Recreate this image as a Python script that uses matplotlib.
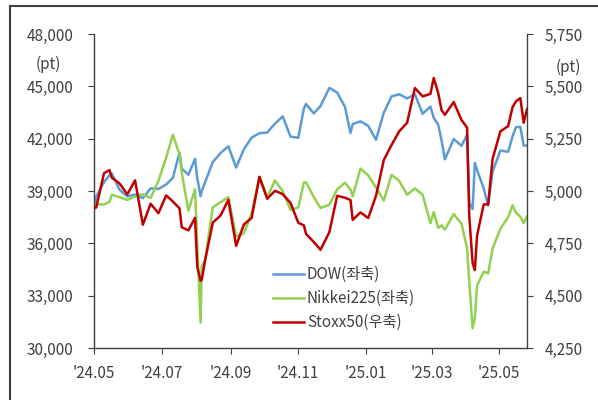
import matplotlib
matplotlib.use("Agg")
import matplotlib.pyplot as plt
import matplotlib.dates as mdates
import pandas as pd

plt.rcParams['font.family'] = ['Noto Sans CJK KR', 'DejaVu Sans']

# weekly-ish closes plus key swing days
dates = ["2024-05-01", "2024-05-03", "2024-05-10", "2024-05-15", "2024-05-17", "2024-05-24",
         "2024-05-31", "2024-06-07", "2024-06-14", "2024-06-21", "2024-06-28", "2024-07-05",
         "2024-07-11", "2024-07-17", "2024-07-19", "2024-07-25", "2024-07-31", "2024-08-02",
         "2024-08-05", "2024-08-06", "2024-08-09", "2024-08-16", "2024-08-23", "2024-08-30",
         "2024-09-06", "2024-09-13", "2024-09-20", "2024-09-27", "2024-10-04", "2024-10-11",
         "2024-10-18", "2024-10-25", "2024-11-01", "2024-11-06", "2024-11-08", "2024-11-15",
         "2024-11-21", "2024-11-29", "2024-12-06", "2024-12-13", "2024-12-18", "2024-12-20",
         "2024-12-27", "2025-01-03", "2025-01-10", "2025-01-17", "2025-01-24", "2025-01-31",
         "2025-02-07", "2025-02-14", "2025-02-21", "2025-02-28", "2025-03-03", "2025-03-07",
         "2025-03-10", "2025-03-13", "2025-03-21", "2025-03-28", "2025-04-02", "2025-04-04",
         "2025-04-07", "2025-04-09", "2025-04-11", "2025-04-17", "2025-04-21", "2025-04-25",
         "2025-05-02", "2025-05-09", "2025-05-13", "2025-05-16", "2025-05-20", "2025-05-23",
         "2025-05-26"]

dow = [37903, 38676, 39513, 39908, 40004, 39070,
       38686, 38799, 38589, 39150, 39119, 39376,
       39753, 41198, 40288, 39935, 40843, 39737,
       38703, 38997, 39497, 40660, 41175, 41563,
       40345, 41394, 42063, 42313, 42352, 42864,
       43276, 42114, 42052, 43729, 43989, 43445,
       43870, 44911, 44642, 43828, 42326, 42840,
       42992, 42732, 41938, 43488, 44424, 44545,
       44303, 44546, 43428, 43841, 43191, 42802,
       41912, 40813, 41985, 41584, 42226, 38315,
       37966, 40608, 40213, 39142, 38170, 40114,
       41317, 41249, 42140, 42655, 42677, 41603,
       41603]

nikkei = [38274, 38236, 38229, 38385, 38787, 38646,
          38488, 38684, 38815, 38596, 39583, 40913,
          42224, 41098, 40064, 37869, 39102, 35910,
          31458, 34675, 35025, 38063, 38364, 38648,
          36391, 36581, 37724, 39830, 38636, 39605,
          38982, 37914, 38054, 39480, 39500, 38642,
          38026, 38208, 39091, 39470, 39082, 38702,
          40281, 39895, 39190, 38451, 39931, 39572,
          38787, 39149, 38776, 37155, 37785, 36887,
          37028, 36790, 37677, 37120, 35725, 33781,
          31136, 31714, 33586, 34377, 34280, 35706,
          36831, 37503, 38183, 37754, 37529, 37160,
          37532]

stoxx = [4921, 4921, 5085, 5100, 5064, 5036,
         4984, 5051, 4839, 4939, 4894, 4979,
         4950, 4917, 4827, 4812, 4872, 4638,
         4571, 4576, 4667, 4849, 4883, 4958,
         4738, 4840, 4872, 5067, 4963, 5001,
         4985, 4943, 4848, 4836, 4795, 4756,
         4719, 4804, 4977, 4968, 4957, 4862,
         4898, 4871, 4977, 5148, 5220, 5286,
         5326, 5492, 5452, 5464, 5540, 5468,
         5387, 5364, 5425, 5339, 5303, 4878,
         4656, 4622, 4787, 4936, 4936, 5154,
         5285, 5310, 5401, 5428, 5444, 5326,
         5391]

labels = ["DOW(좌축)", "Nikkei225(좌축)", "Stoxx50(우축)"]
colors = ["#5B9BD5", "#92D050", "#C00000"]

x = pd.to_datetime(dates)
txt = "#404040"

fig = plt.figure(figsize=(5.98, 4.0), dpi=100)
ax = fig.add_axes([0.1572, 0.13, 0.7241, 0.785])
ax2 = ax.twinx()

l1, = ax.plot(x, dow, color=colors[0], lw=1.8, label=labels[0])
l2, = ax.plot(x, nikkei, color=colors[1], lw=1.8, label=labels[1])
l3, = ax2.plot(x, stoxx, color=colors[2], lw=1.8, label=labels[2])

ax.set_ylim(30000, 48000)
ax.set_yticks(range(30000, 48001, 3000))
ax.yaxis.set_major_formatter(matplotlib.ticker.StrMethodFormatter("{x:,.0f}"))
ax2.set_ylim(4250, 5750)
ax2.set_yticks(range(4250, 5751, 250))
ax2.yaxis.set_major_formatter(matplotlib.ticker.StrMethodFormatter("{x:,.0f}"))

ax.set_xlim(pd.Timestamp("2024-05-01"), pd.Timestamp("2025-05-26"))
ax.xaxis.set_major_locator(mdates.MonthLocator(bymonth=[1, 3, 5, 7, 9, 11]))
ax.xaxis.set_major_formatter(mdates.DateFormatter("'%y.%m"))

for a in (ax, ax2):
    a.spines['top'].set_visible(False)
    for s in a.spines.values():
        s.set_color("#404040")
        s.set_linewidth(1.0)
ax.spines['right'].set_visible(False)
ax2.spines['left'].set_visible(False)
ax2.spines['bottom'].set_visible(False)

ax.tick_params(axis='y', direction='out', length=4, pad=11, labelsize=11, colors=txt)
ax.tick_params(axis='x', direction='out', length=4, pad=8, labelsize=11, colors=txt)
ax2.tick_params(axis='y', direction='out', length=4, pad=9, labelsize=11, colors=txt)

fig.text(48 / 598, 1 - 64 / 400, "(pt)", ha='center', va='center', fontsize=11, color=txt)
fig.text(568 / 598, 1 - 67 / 400, "(pt)", ha='center', va='center', fontsize=11, color=txt)

ax2.legend(handles=[l1, l2, l3], loc='lower left', bbox_to_anchor=(0.40, 0.035),
           frameon=False, fontsize=11, handlelength=2.0, handletextpad=0.2,
           labelspacing=0.45, borderaxespad=0, labelcolor=txt)

# outer frame
fig.add_artist(plt.Line2D([10 / 598, 10 / 598], [0, 1 - 6 / 400], color="#404040", lw=1.5))
fig.add_artist(plt.Line2D([10 / 598, 1], [1 - 6 / 400, 1 - 6 / 400], color="#404040", lw=1.5))

fig.savefig("out.png", dpi=100)
